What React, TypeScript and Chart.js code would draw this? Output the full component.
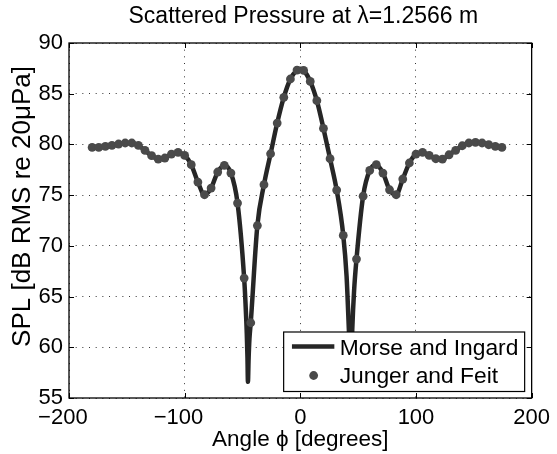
import React, { useEffect, useRef } from 'react';
import { Chart, registerables } from 'chart.js';

Chart.register(...registerables);

const FONT = '"Liberation Sans", Arial, Helvetica, sans-serif';

// Junger and Feit (markers)
const markerAngles = [
  -180, -174.29, -168.57, -162.86, -157.14, -151.43, -145.71, -140, -134.29, -128.57,
  -122.86, -117.14, -111.43, -105.71, -100, -94.29, -88.57, -82.86, -77.14, -71.43,
  -65.71, -60, -54.29, -48.57, -42.86, -37.14, -31.43, -25.71, -20, -14.29,
  -8.57, -2.86, 2.86, 8.57, 14.29, 20, 25.71, 31.43, 37.14, 42.86,
  48.57, 54.29, 60, 65.71, 71.43, 77.14, 82.86, 88.57, 94.29, 100,
  105.71, 111.43, 117.14, 122.86, 128.57, 134.29, 140, 145.71, 151.43, 157.14,
  162.86, 168.57, 174.29,
];
const markerLevels = [
  79.7, 79.7, 79.8, 79.9, 80.04, 80.14, 80.14, 79.9, 79.41, 78.89,
  78.56, 78.66, 79.05, 79.21, 78.92, 78.0, 76.29, 75.04, 75.7, 77.28,
  77.93, 77.18, 74.22, 66.82, 62.42, 72.0, 76.03, 79.08, 82.11, 84.64,
  86.45, 87.33, 87.3, 86.21, 84.31, 81.58, 78.59, 75.5, 71.03, 59.4,
  68.7, 74.9, 77.44, 78.0, 77.18, 75.53, 75.04, 76.59, 78.17, 79.05,
  79.21, 78.92, 78.59, 78.56, 78.98, 79.41, 79.87, 80.14, 80.2, 80.14,
  79.97, 79.8, 79.7,
];

// Morse and Ingard (solid line)
const lineAngles = [
  -180, -174.29, -168.57, -162.86, -157.14, -151.43, -145.71, -140, -134.29, -128.57,
  -122.86, -117.14, -111.43, -105.71, -100, -94.29, -88.57, -82.86, -77.14, -71.43,
  -65.71, -60, -54.29, -48.57, -47.5, -46.3, -45.7, -45.3, -44.7, -44.0,
  -42.86, -37.14, -31.43, -25.71, -20, -14.29, -8.57, -2.86, 0, 2.86,
  8.57, 14.29, 20, 25.71, 31.43, 37.14, 40.0, 42.0, 42.86, 43.5,
  44.2, 44.9, 46.5, 48.57, 54.29, 60, 65.71, 71.43, 77.14, 82.86,
  88.57, 94.29, 100, 105.71, 111.43, 117.14, 122.86, 128.57, 134.29, 140,
  145.71, 151.43, 157.14, 162.86, 168.57, 174.29,
];
const lineLevels = [
  79.7, 79.7, 79.8, 79.9, 80.04, 80.14, 80.14, 79.9, 79.41, 78.89,
  78.56, 78.66, 79.05, 79.21, 78.92, 78.0, 76.29, 75.04, 75.7, 77.28,
  77.93, 77.18, 74.22, 66.82, 64.6, 61.4, 59.0, 56.6, 58.9, 60.8,
  62.42, 72.0, 76.03, 79.08, 82.11, 84.64, 86.45, 87.33, 87.45, 87.3,
  86.21, 84.31, 81.58, 78.59, 75.5, 71.03, 67.0, 61.7, 59.4, 56.0,
  59.0, 61.7, 65.6, 68.7, 74.9, 77.44, 78.0, 77.18, 75.53, 75.04,
  76.59, 78.17, 79.05, 79.21, 78.92, 78.59, 78.56, 78.98, 79.41, 79.87,
  80.14, 80.2, 80.14, 79.97, 79.8, 79.7,
];

const xTicks = [-200, -100, 0, 100, 200];
const yTicks = [55, 60, 65, 70, 75, 80, 85, 90];

const titleText = 'Scattered Pressure at \u03bb=1.2566 m';
const xLabel = 'Angle \u03d5 [degrees]';
const yLabel = 'SPL [dB RMS re 20\u03bcPa]';
const seriesNames = ['Morse and Ingard', 'Junger and Feit'];

const LINE_COLOR = '#262626';
const MARKER_COLOR = '#4a4a4a';

const decorPlugin = {
  id: 'matlabDecor',
  afterDraw(chart: any) {
    const { ctx, chartArea } = chart;
    const { left, right, top, bottom } = chartArea;
    const xs = chart.scales.x;
    const ys = chart.scales.y;
    ctx.save();

    // axes box
    ctx.strokeStyle = '#000';
    ctx.lineWidth = 1.3;
    ctx.strokeRect(left, top, right - left, bottom - top);

    // inward ticks
    const tl = 5;
    ctx.lineWidth = 1;
    ctx.beginPath();
    xTicks.forEach((v) => {
      const px = Math.round(xs.getPixelForValue(v)) + 0.5;
      ctx.moveTo(px, bottom);
      ctx.lineTo(px, bottom - tl);
      ctx.moveTo(px, top);
      ctx.lineTo(px, top + tl);
    });
    yTicks.forEach((v) => {
      const py = Math.round(ys.getPixelForValue(v)) + 0.5;
      ctx.moveTo(left, py);
      ctx.lineTo(left + tl, py);
      ctx.moveTo(right, py);
      ctx.lineTo(right - tl, py);
    });
    ctx.stroke();

    // legend
    const bx = right - 248;
    const by = bottom - 66;
    const bw = 241;
    const bh = 59.5;
    ctx.fillStyle = '#fff';
    ctx.fillRect(bx, by, bw, bh);
    ctx.strokeStyle = '#000';
    ctx.lineWidth = 1.2;
    ctx.strokeRect(bx, by, bw, bh);

    ctx.strokeStyle = LINE_COLOR;
    ctx.lineWidth = 4.5;
    ctx.beginPath();
    ctx.moveTo(bx + 8.3, by + 14.5);
    ctx.lineTo(bx + 50.7, by + 14.5);
    ctx.stroke();

    ctx.fillStyle = MARKER_COLOR;
    ctx.beginPath();
    ctx.arc(bx + 30, by + 43.5, 4.4, 0, Math.PI * 2);
    ctx.fill();

    ctx.fillStyle = '#000';
    ctx.font = `22.8px ${FONT}`;
    ctx.textAlign = 'left';
    ctx.textBaseline = 'alphabetic';
    ctx.fillText(seriesNames[0], bx + 56, by + 23.3);
    ctx.fillText(seriesNames[1], bx + 56, by + 51.2);

    // title
    ctx.font = `23px ${FONT}`;
    ctx.textAlign = 'center';
    ctx.fillText(titleText, (left + right) / 2 + 3, 23.3);

    // y label
    ctx.translate(30, 206.5);
    ctx.rotate(-Math.PI / 2);
    ctx.font = `26px ${FONT}`;
    ctx.textAlign = 'center';
    ctx.textBaseline = 'alphabetic';
    ctx.fillText(yLabel, 0, 0);

    ctx.restore();
  },
};

export default function App() {
  const ref = useRef<HTMLCanvasElement | null>(null);

  useEffect(() => {
    if (!ref.current) return;
    const markerData = markerAngles.map((a, i) => ({ x: a, y: markerLevels[i] }));
    const lineData = lineAngles.map((a, i) => ({ x: a, y: lineLevels[i] }));

    const chart = new Chart(ref.current, {
      type: 'scatter',
      data: {
        datasets: [
          {
            label: seriesNames[1],
            data: markerData,
            showLine: false,
            pointRadius: 4.4,
            pointHoverRadius: 4.4,
            pointBorderWidth: 0,
            pointBackgroundColor: MARKER_COLOR,
            pointBorderColor: MARKER_COLOR,
          },
          {
            label: seriesNames[0],
            data: lineData,
            showLine: true,
            borderColor: LINE_COLOR,
            borderWidth: 4.5,
            pointRadius: 0,
            pointHoverRadius: 0,
            cubicInterpolationMode: 'monotone',
            fill: false,
          },
        ],
      } as any,
      options: {
        responsive: false,
        animation: false,
        events: [],
        layout: { padding: { top: 43, right: 19, left: 0, bottom: 0 } },
        plugins: {
          legend: { display: false },
          title: { display: false },
          tooltip: { enabled: false },
        },
        scales: {
          x: {
            type: 'linear',
            min: -200,
            max: 200,
            afterFit(scale: any) {
              scale.height = 56;
            },
            afterBuildTicks(scale: any) {
              scale.ticks = xTicks.map((v) => ({ value: v }));
            },
            ticks: {
              autoSkip: false,
              maxRotation: 0,
              padding: 7,
              color: '#000',
              font: { family: FONT, size: 22 },
              callback: (v: any) => (Number(v) < 0 ? '\u2212' + Math.abs(Number(v)) + '\u2007' : String(v)),
            },
            grid: { color: '#333', lineWidth: 1, drawTicks: false },
            border: { display: false, dash: [1, 5.67] },
            title: {
              display: true,
              text: xLabel,
              color: '#000',
              font: { family: FONT, size: 22.5 },
              padding: { top: 0, bottom: 0.5 },
            },
          },
          y: {
            type: 'linear',
            min: 55,
            max: 90,
            afterFit(scale: any) {
              scale.width = 69;
            },
            afterBuildTicks(scale: any) {
              scale.ticks = yTicks.map((v) => ({ value: v }));
            },
            ticks: {
              autoSkip: false,
              padding: 6,
              color: '#000',
              font: { family: FONT, size: 22 },
              callback: (v: any) => String(v),
            },
            grid: { color: '#333', lineWidth: 1, drawTicks: false },
            border: { display: false, dash: [1, 5.67] },
          },
        },
      } as any,
      plugins: [decorPlugin],
    });

    return () => chart.destroy();
  }, []);

  return (
    <div style={{ position: 'absolute', left: 0, top: 0, width: 557, height: 454, background: '#fff' }}>
      <canvas ref={ref} width={557} height={454} style={{ display: 'block' }} />
    </div>
  );
}
